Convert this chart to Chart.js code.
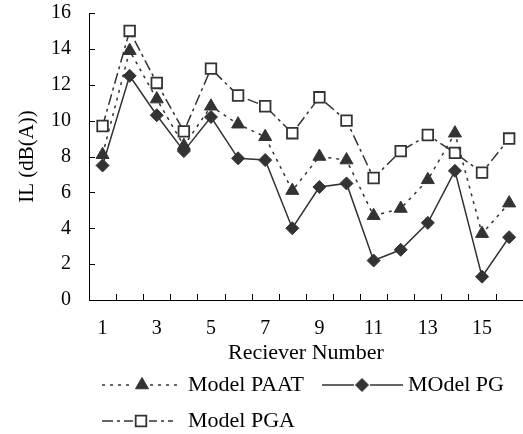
<!DOCTYPE html>
<html><head><meta charset="utf-8">
<script src="https://cdn.jsdelivr.net/npm/chart.js@4"></script>
<style>html,body{margin:0;padding:0;background:#fff;overflow:hidden;width:523px;height:434px}</style>
</head><body>
<canvas id="c" width="532" height="434"></canvas>
<script>
const receivers = ['1','2','3','4','5','6','7','8','9','10','11','12','13','14','15','16'];
const modelPAAT = [8.1, 13.9, 11.2, 8.6, 10.8, 9.8, 9.1, 6.1, 8.0, 7.8, 4.7, 5.1, 6.7, 9.3, 3.7, 5.4];
const modelPG   = [7.5, 12.5, 10.3, 8.3, 10.2, 7.9, 7.8, 4.0, 6.3, 6.5, 2.2, 2.8, 4.3, 7.2, 1.3, 3.5];
const modelPGA  = [9.7, 15.0, 12.1, 9.4, 12.9, 11.4, 10.8, 9.3, 11.3, 10.0, 6.8, 8.3, 9.2, 8.2, 7.1, 9.0];
const seriesNames = ['Model PAAT', 'MOdel PG', 'Model PGA'];

const INK = '#333333';
const FONT = "'Liberation Serif', 'Times New Roman', serif";

const dashes = { paat: [3, 5], pg: [], pga: [11, 4, 3, 4] };

const tickPlugin = {
  id: 'ticksAndLegend',
  afterDraw(chart) {
    const ctx = chart.ctx, xs = chart.scales.x, ys = chart.scales.y, a = chart.chartArea;
    ctx.save();
    ctx.strokeStyle = '#000'; ctx.lineWidth = 1;
    ys.ticks.forEach((t, i) => {
      const py = Math.round(ys.getPixelForTick(i)) + 0.5;
      ctx.beginPath(); ctx.moveTo(a.left, py); ctx.lineTo(a.left + 6, py); ctx.stroke();
    });
    const step = xs.getPixelForValue(1) - xs.getPixelForValue(0);
    for (let i = 0; i <= receivers.length; i++) {
      const px = Math.round(xs.getPixelForValue(i) - step / 2) + 0.5;
      ctx.beginPath(); ctx.moveTo(px, a.bottom); ctx.lineTo(px, a.bottom - 6); ctx.stroke();
    }
    // legend
    const items = [
      { ds: 0, x1: 102, x2: 178, cx: 142, y: 385, tx: 188 },
      { ds: 1, x1: 322, x2: 403, cx: 362, y: 385, tx: 408 },
      { ds: 2, x1: 102, x2: 173, cx: 141, y: 421, tx: 188 }
    ];
    items.forEach(it => {
      const d = chart.data.datasets[it.ds];
      ctx.strokeStyle = INK; ctx.lineWidth = 1.5;
      ctx.setLineDash(d.borderDash || []);
      ctx.beginPath(); ctx.moveTo(it.x1, it.y); ctx.lineTo(it.x2, it.y); ctx.stroke();
      ctx.setLineDash([]);
      ctx.fillStyle = '#fff';
      ctx.fillRect(it.cx - 8, it.y - 7, 16, 14);
      ctx.fillStyle = d.pointBackgroundColor; ctx.strokeStyle = d.pointBorderColor; ctx.lineWidth = d.pointBorderWidth;
      Chart.helpers.drawPoint(ctx, { pointStyle: d.pointStyle, radius: d.pointRadius, borderWidth: d.pointBorderWidth, rotation: 0 }, it.cx, it.y);
      ctx.fillStyle = '#000';
      ctx.font = '22px ' + FONT;
      ctx.textBaseline = 'middle'; ctx.textAlign = 'left';
      ctx.fillText(seriesNames[it.ds], it.tx, it.y);
    });
    ctx.restore();
  }
};

new Chart(document.getElementById('c'), {
  type: 'line',
  data: {
    labels: receivers,
    datasets: [
      { label: seriesNames[0], data: modelPAAT, borderColor: INK, borderWidth: 1.5, borderDash: dashes.paat,
        pointStyle: 'triangle', pointRadius: 7.5, pointBackgroundColor: INK, pointBorderColor: INK, pointBorderWidth: 1 },
      { label: seriesNames[1], data: modelPG, borderColor: INK, borderWidth: 1.5, borderDash: dashes.pg,
        pointStyle: 'rectRot', pointRadius: 6.5, pointBackgroundColor: INK, pointBorderColor: INK, pointBorderWidth: 1 },
      { label: seriesNames[2], data: modelPGA, borderColor: INK, borderWidth: 1.5, borderDash: dashes.pga,
        pointStyle: 'rect', pointRadius: 7.5, pointBackgroundColor: '#fff', pointBorderColor: INK, pointBorderWidth: 1.8 }
    ]
  },
  options: {
    responsive: false, animation: false, devicePixelRatio: 1,
    layout: { padding: { top: 13, right: 0, bottom: 68, left: 0 } },
    plugins: { legend: { display: false }, tooltip: { enabled: false } },
    scales: {
      x: {
        offset: true,
        afterFit: (s) => { s.height = 66; s.paddingLeft = 0; s.paddingRight = 0; },
        grid: { display: true, drawOnChartArea: false, drawTicks: false },
        border: { display: true, color: '#000', width: 1 },
        ticks: { autoSkip: false, maxRotation: 0, padding: 17, color: '#000', font: { family: FONT, size: 20 },
          callback: (v, i) => (i % 2 === 0 ? receivers[i] : '') },
        title: { display: true, text: 'Reciever Number', color: '#000', font: { family: FONT, size: 22 }, padding: { top: 0, bottom: 0 } }
      },
      y: {
        min: 0, max: 16,
        afterFit: (s) => { s.width = 89; s.paddingTop = 0; s.paddingBottom = 0; },
        grid: { display: true, drawOnChartArea: false, drawTicks: false },
        border: { display: true, color: '#000', width: 1 },
        ticks: { stepSize: 2, padding: 18, color: '#000', font: { family: FONT, size: 20 } },
        title: { display: true, text: 'IL (dB(A))', color: '#000', font: { family: FONT, size: 21 }, padding: { top: 15, bottom: 0 } }
      }
    }
  },
  plugins: [tickPlugin]
});
</script>
</body></html>
